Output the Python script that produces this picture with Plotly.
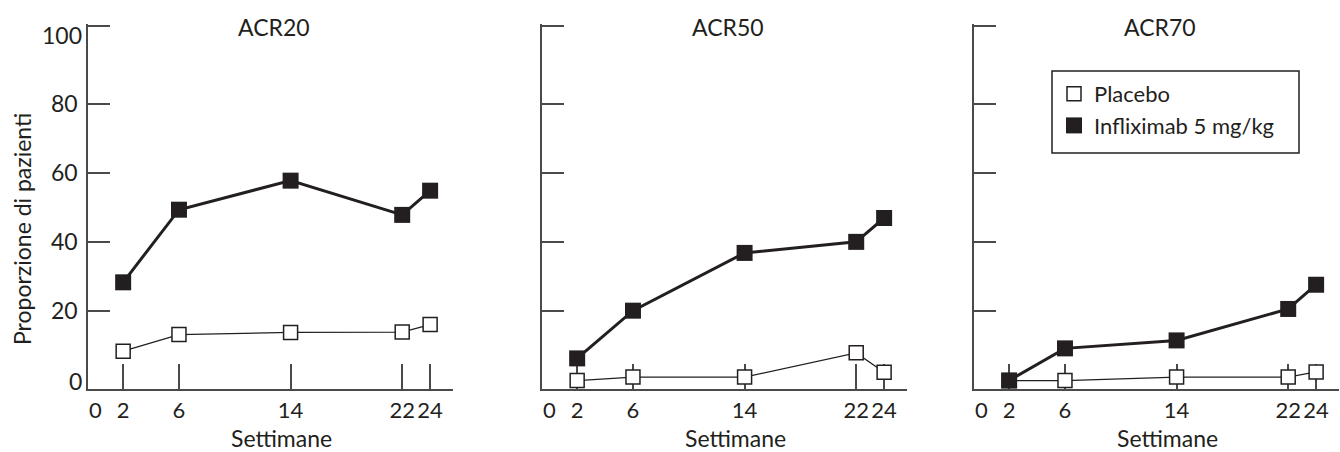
import plotly.graph_objects as go

# ---------------- data ----------------
weeks = [2, 6, 14, 22, 24]
panel_titles = ["ACR20", "ACR50", "ACR70"]

placebo_acr20 = [8.5, 13.3, 13.9, 14.0, 16.2]
infliximab_acr20 = [28.4, 49.4, 57.8, 47.9, 54.9]

placebo_acr50 = [0.0, 1.0, 1.0, 8.0, 2.4]
infliximab_acr50 = [6.4, 20.2, 36.9, 40.1, 47.0]

placebo_acr70 = [0.0, 0.0, 1.0, 1.0, 2.5]
infliximab_acr70 = [0.0, 9.3, 11.6, 20.7, 27.7]

x_tick_weeks = [2, 6, 14, 22, 24]
y_tick_values = [20, 40, 60, 80]
y_tick_labels = ["20", "40", "60", "80"]

series_names = ["Placebo", "Infliximab 5 mg/kg"]
x_title = "Settimane"
y_title = "Proporzione di pazienti"

placebo = [placebo_acr20, placebo_acr50, placebo_acr70]
infliximab = [infliximab_acr20, infliximab_acr50, infliximab_acr70]

# ---------------- style ----------------
W, H = 1340, 452
INK = "#231f20"
AXIS = "#4a4a4a"
FONT = "Lato"
FS = 23
TFS = 22

x_doms = [(88 / W, 453 / W), (542 / W, 907 / W), (974 / W, 1339 / W)]
y_dom = ((H - 389) / H, (H - 24) / H)
x_range = [-0.52, 25.64]
y_range = [-2.45, 103.1]
y_top_tick = 102.5

fig = go.Figure()

for i in range(3):
    xa = "x" if i == 0 else f"x{i+1}"
    ya = "y" if i == 0 else f"y{i+1}"
    fig.add_trace(go.Scatter(x=weeks, y=placebo[i], mode="lines", xaxis=xa, yaxis=ya,
                             line=dict(color=INK, width=1.3), showlegend=False, hoverinfo="skip"))
    fig.add_trace(go.Scatter(x=weeks, y=placebo[i], mode="markers", xaxis=xa, yaxis=ya,
                             name=series_names[0], legendgroup="p", showlegend=(i == 0),
                             marker=dict(symbol="square", size=14, color="white",
                                         line=dict(color=INK, width=1.5))))
    fig.add_trace(go.Scatter(x=weeks, y=infliximab[i], mode="lines", xaxis=xa, yaxis=ya,
                             line=dict(color=INK, width=3), showlegend=False, hoverinfo="skip"))
    fig.add_trace(go.Scatter(x=weeks, y=infliximab[i], mode="markers", xaxis=xa, yaxis=ya,
                             name=series_names[1], legendgroup="i", showlegend=(i == 0),
                             marker=dict(symbol="square", size=16, color=INK,
                                         line=dict(color=INK, width=0))))

layout = dict(
    width=W, height=H,
    margin=dict(l=0, r=0, t=0, b=0),
    paper_bgcolor="white", plot_bgcolor="white",
    font=dict(family=FONT, size=FS, color=INK),
    showlegend=True,
    legend=dict(x=1054 / W, y=(H - 73) / H, xanchor="left", yanchor="top",
                bgcolor="rgba(0,0,0,0)", borderwidth=0, font=dict(size=22, color=INK),
                tracegroupgap=0),
)

annotations = []
shapes = []
for i in range(3):
    sx = "" if i == 0 else str(i + 1)
    layout[f"xaxis{sx}"] = dict(
        domain=list(x_doms[i]), anchor=f"y{sx}", range=x_range,
        tickmode="array", tickvals=x_tick_weeks, ticktext=[str(v) for v in x_tick_weeks],
        ticks="inside", ticklen=25, tickwidth=1.5, tickcolor=AXIS, tickangle=0,
        showline=True, linecolor=AXIS, linewidth=1.5,
        showgrid=False, zeroline=False, layer="below traces",
        tickfont=dict(size=TFS, color=INK), ticklabelstandoff=1,
    )
    layout[f"yaxis{sx}"] = dict(
        domain=list(y_dom), anchor=f"x{sx}", range=y_range,
        tickmode="array", tickvals=y_tick_values + [y_top_tick],
        ticktext=y_tick_labels + [""],
        showticklabels=(i == 0),
        ticks="inside", ticklen=22, tickwidth=1.5, tickcolor=AXIS,
        showline=True, linecolor=AXIS, linewidth=1.5,
        showgrid=False, zeroline=False, layer="below traces",
        tickfont=dict(size=FS, color=INK), ticklabelstandoff=4,
    )
    annotations.append(dict(text=panel_titles[i], xref=f"x{sx} domain", yref=f"y{sx} domain",
                            x=0.5, y=1, xanchor="center", yanchor="middle", xshift=3, yshift=-3,
                            showarrow=False, font=dict(size=FS, color=INK)))
    annotations.append(dict(text="0", xref=f"x{sx}", yref=f"y{sx} domain",
                            x=0, y=0, xanchor="center", yanchor="middle", yshift=-20,
                            showarrow=False, font=dict(size=TFS, color=INK)))
    annotations.append(dict(text=x_title, xref=f"x{sx} domain", yref="paper",
                            x=0.5, y=(H - 438) / H, xanchor="center", yanchor="middle",
                            xshift=11, showarrow=False, font=dict(size=FS, color=INK)))

for v in (0, 100):
    annotations.append(dict(text=str(v), xref="x domain", yref="y", x=0, y=v,
                            xanchor="right", yanchor="middle", xshift=-4,
                            showarrow=False, font=dict(size=FS, color=INK)))
annotations.append(dict(text=y_title, xref="paper", yref="paper", x=22 / W, y=(H - 229) / H,
                        xanchor="center", yanchor="middle", textangle=-90,
                        showarrow=False, font=dict(size=FS, color=INK)))

shapes.append(dict(type="rect", xref="paper", yref="paper",
                   x0=1052 / W, x1=1299 / W, y0=(H - 153) / H, y1=(H - 71) / H,
                   line=dict(color=INK, width=1.5), fillcolor="rgba(0,0,0,0)", layer="above"))

layout["annotations"] = annotations
layout["shapes"] = shapes
fig.update_layout(**layout)

fig.write_html("out.html", config={"displayModeBar": False},
               post_script="document.body.style.margin='0';document.body.style.padding='0';")
